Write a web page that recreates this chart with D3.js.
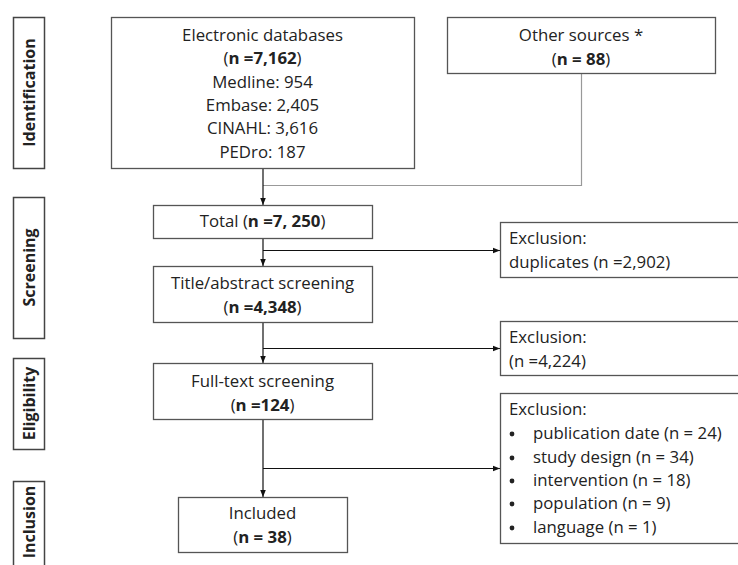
<!DOCTYPE html>
<html>
<head>
<meta charset="utf-8">
<script src="https://cdn.jsdelivr.net/npm/d3@7"></script>
<style>
  body { margin: 0; background: #fff; }
  svg text { font-family: "Open Sans", Lato, sans-serif; fill: #222; }
</style>
</head>
<body>
<script>
// Stage labels down the left side
var stages = ['Identification', 'Screening', 'Eligibility', 'Inclusion']

// Box texts, ** marks the bold part
var dbLines = ['Electronic databases', '(**n =7,162**)', 'Medline: 954', 'Embase: 2,405', 'CINAHL: 3,616', 'PEDro: 187']
var otherLines = ['Other sources *', '(**n = 88**)']
var totalLines = ['Total (**n =7, 250**)']
var titleLines = ['Title/abstract screening', '(**n =4,348**)']
var fullLines = ['Full-text screening', '(**n =124**)']
var includedLines = ['Included', '(**n = 38**)']
var excl1Lines = ['Exclusion:', 'duplicates (n =2,902)']
var excl2Lines = ['Exclusion:', '(n =4,224)']
var excl3Head = 'Exclusion:'
var excl3Reasons = ['publication date (n = 24)', 'study design (n = 34)', 'intervention (n = 18)', 'population (n = 9)', 'language (n = 1)']

// layout (pixels)
var W = 738, H = 565
var fontSize = 16.8
var stageBoxes = [[17, 168], [197, 338], [358, 449], [481, 580]]
var layout = {
  db:       {x: 111, y: 17,  w: 303, h: 151, lineY: [35, 58, 82, 105, 128, 152]},
  other:    {x: 447, y: 17,  w: 268, h: 56,  lineY: [35, 59]},
  total:    {x: 153, y: 205, w: 219, h: 33,  lineY: [221]},
  title:    {x: 153, y: 266, w: 219, h: 56,  lineY: [283, 307]},
  full:     {x: 153, y: 363, w: 219, h: 56,  lineY: [381, 405]},
  included: {x: 178, y: 497, w: 169, h: 55,  lineY: [513, 537]},
  excl1:    {x: 500, y: 222, w: 250, h: 55,  lineY: [238, 262]},
  excl2:    {x: 500, y: 321, w: 250, h: 54,  lineY: [337, 361]},
  excl3:    {x: 500, y: 393, w: 250, h: 150, lineY: [409, 433, 457, 480, 503, 527]}
}
var spineX = 263

var svg = d3.select('body').append('svg')
  .attr('width', W)
  .attr('height', H)

svg.append('defs').append('marker')
  .attr('id', 'arrow')
  .attr('viewBox', '0 0 10 10')
  .attr('refX', 10).attr('refY', 5)
  .attr('markerWidth', 7).attr('markerHeight', 7)
  .attr('markerUnits', 'userSpaceOnUse')
  .attr('orient', 'auto')
  .append('path')
  .attr('d', 'M0,1L10,5L0,9Z')
  .attr('fill', '#111')

// writes a line with optional **bold** pieces as tspans
function richText(sel, str) {
  var parts = str.split('**')
  parts.forEach(function(p, i) {
    if (!p) return
    sel.append('tspan')
      .attr('font-weight', i % 2 ? 700 : 400)
      .text(p)
  })
}

function drawBox(key, lines, align) {
  var b = layout[key]
  svg.append('rect')
    .attr('x', b.x + 0.5).attr('y', b.y + 0.5)
    .attr('width', b.w).attr('height', b.h)
    .attr('fill', '#fff')
    .attr('stroke', '#555')
    .attr('stroke-width', 1.3)
  lines.forEach(function(l, i) {
    var t = svg.append('text')
      .attr('x', align === 'left' ? b.x + 9 : b.x + b.w / 2)
      .attr('y', b.lineY[i])
      .attr('dy', '0.35em')
      .attr('text-anchor', align === 'left' ? 'start' : 'middle')
      .attr('font-size', fontSize)
    richText(t, l)
  })
}

// stage labels
stages.forEach(function(s, i) {
  var yy = stageBoxes[i]
  svg.append('rect')
    .attr('x', 13.5).attr('y', yy[0] + 0.5)
    .attr('width', 31).attr('height', yy[1] - yy[0])
    .attr('fill', '#fff')
    .attr('stroke', '#444')
    .attr('stroke-width', 1.5)
  var cy = (yy[0] + Math.min(yy[1], H)) / 2
  if (i === 3) cy = 522
  svg.append('text')
    .attr('transform', 'translate(29,' + cy + ') rotate(-90)')
    .attr('text-anchor', 'middle')
    .attr('dy', '0.35em')
    .attr('font-size', 16)
    .attr('font-weight', 700)
    .text(s)
})

// connectors
function line(pts, color, arrow) {
  var p = svg.append('path')
    .attr('d', d3.line()(pts))
    .attr('fill', 'none')
    .attr('stroke', color)
    .attr('stroke-width', 1.2)
  if (arrow) p.attr('marker-end', 'url(#arrow)')
}

var L = layout
line([[581.5, L.other.y + L.other.h], [581.5, 185.5], [spineX, 185.5]], '#999')
line([[spineX, L.db.y + L.db.h], [spineX, L.total.y]], '#111', true)
line([[spineX, L.total.y + L.total.h], [spineX, L.title.y]], '#111', true)
line([[spineX, 250.5], [L.excl1.x, 250.5]], '#111', true)
line([[spineX, L.title.y + L.title.h], [spineX, L.full.y]], '#111', true)
line([[spineX, 348.5], [L.excl2.x, 348.5]], '#111', true)
line([[spineX, L.full.y + L.full.h], [spineX, L.included.y]], '#111', true)
line([[spineX, 468.5], [L.excl3.x, 468.5]], '#111', true)

drawBox('db', dbLines)
drawBox('other', otherLines)
drawBox('total', totalLines)
drawBox('title', titleLines)
drawBox('full', fullLines)
drawBox('included', includedLines)
drawBox('excl1', excl1Lines, 'left')
drawBox('excl2', excl2Lines, 'left')
drawBox('excl3', [excl3Head], 'left')

// bullet list in the last exclusion box
var bullets = svg.append('g').selectAll('g')
  .data(excl3Reasons)
  .join('g')
  .attr('transform', function(d, i) { return 'translate(0,' + L.excl3.lineY[i + 1] + ')' })

bullets.append('circle')
  .attr('cx', 512).attr('cy', 1)
  .attr('r', 2.4)
  .attr('fill', '#222')

bullets.append('text')
  .attr('x', 533).attr('dy', '0.35em')
  .attr('font-size', fontSize)
  .text(function(d) { return d })
</script>
</body>
</html>
